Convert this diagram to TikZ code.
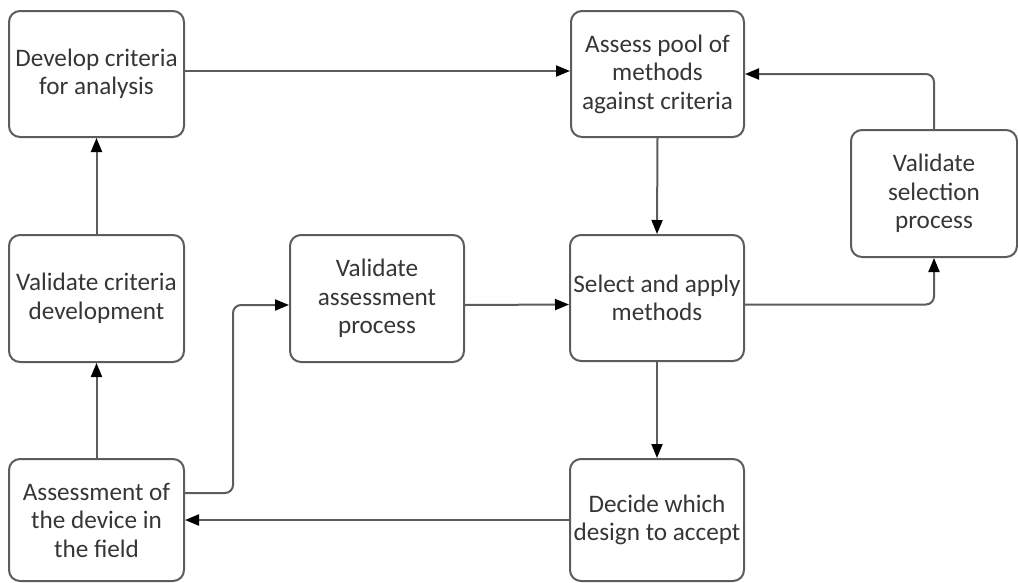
\documentclass[tikz,border=0pt]{standalone}
\usepackage{fontspec}
\setmainfont{Carlito}
\usetikzlibrary{arrows.meta}
\definecolor{linegray}{HTML}{5C5C5C}
\definecolor{textgray}{HTML}{363636}
\begin{document}
\begin{tikzpicture}[x=1pt,y=-1pt,
  box/.style={draw=linegray, line width=2pt, rounded corners=11pt, align=center,
    text=textgray, font=\fontsize{25.2}{28.5}\selectfont, inner sep=1pt},
  conn/.style={draw=linegray, line width=2pt, rounded corners=8pt,
    -{Triangle[length=14pt,width=11pt,fill=black,color=black]}}
]
\useasboundingbox (0,0) rectangle (1018,582);
\node[box, minimum width=175pt, minimum height=126pt] (dev) at (96.5,74) {Develop criteria\\for analysis};
\node[box, minimum width=173pt, minimum height=126pt] (assess) at (657.5,74) {Assess pool of\\methods\\against criteria};
\node[box, minimum width=166pt, minimum height=127pt] (valsel) at (934,193.5) {Validate\\selection\\process};
\node[box, minimum width=175pt, minimum height=127pt] (valcrit) at (96.5,298.5) {Validate criteria\\development};
\node[box, minimum width=174pt, minimum height=127pt] (valass) at (377,298.5) {Validate\\assessment\\process};
\node[box, minimum width=174pt, minimum height=126pt] (select) at (657,298) {Select and apply\\methods};
\node[box, minimum width=175pt, minimum height=122pt] (field) at (96.5,520) {Assessment of\\the device in\\the field};
\node[box, minimum width=174pt, minimum height=122pt] (decide) at (657,520) {Decide which\\design to accept};

\draw[conn] ([yshift=3pt]dev.east) -- ([yshift=3pt]assess.west);
\draw[conn] (valsel.north) |- (assess.east);
\draw[conn] (assess.south) -- (select.north);
\draw[conn] (valcrit.north) -- (dev.south);
\draw[conn] (field.north) -- (valcrit.south);
\draw[conn] ([yshift=27pt]field.east) -- ++(48,0) |- ([yshift=-6.5pt]valass.west);
\draw[conn] ([yshift=-6.5pt]valass.east) -- ([yshift=-6.5pt]select.west);
\draw[conn] ([yshift=-6.5pt]select.east) -| (valsel.south);
\draw[conn] (select.south) -- (decide.north);
\draw[conn] (decide.west) -- (field.east);
\end{tikzpicture}
\end{document}
